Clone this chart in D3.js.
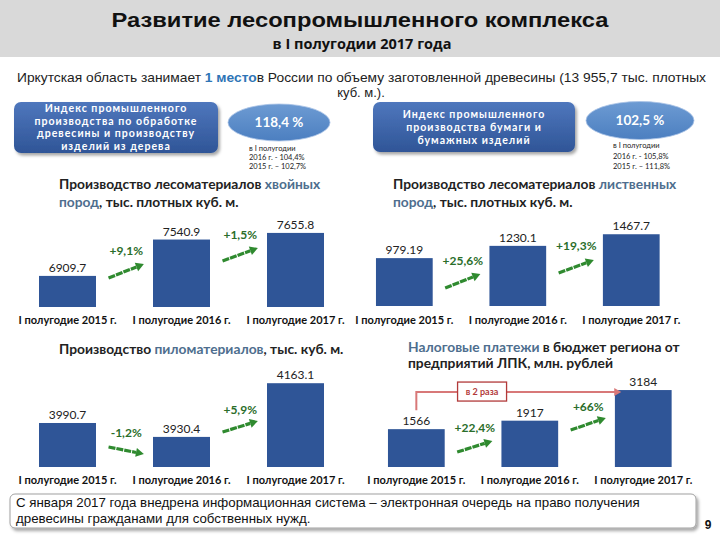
<!DOCTYPE html>
<html><head><meta charset="utf-8">
<script src="https://cdn.jsdelivr.net/npm/d3@7/dist/d3.min.js"></script>
<style>
html,body{margin:0;padding:0;background:#fff;}
svg{display:block;}
</style></head>
<body><svg id="c" width="720" height="540"></svg>
<script>
// ---------- DATA ----------
const categories = ["I полугодие 2015 г.", "I полугодие 2016 г.", "I полугодие 2017 г."];
const softwoodValues = [6909.7, 7540.9, 7655.8];
const softwoodChanges = ["+9,1%", "+1,5%"];
const hardwoodValues = [979.19, 1230.1, 1467.7];
const hardwoodChanges = ["+25,6%", "+19,3%"];
const lumberValues = [3990.7, 3930.4, 4163.1];
const lumberChanges = ["-1,2%", "+5,9%"];
const taxValues = [1566, 1917, 3184];
const taxChanges = ["+22,4%", "+66%"];
const taxRatioLabel = "в 2 раза";
const woodIndexValue = "118,4 %";
const woodIndexHistory = ["в I полугодии", "2016 г. - 104,4%", "2015 г. – 102,7%"];
const paperIndexValue = "102,5 %";
const paperIndexHistory = ["в I полугодии", "2016 г. - 105,8%", "2015 г. – 111,8%"];

// ---------- STYLE ----------
const BAR = "#2f5597";
const HL = "#4e6e8e";
const GREEN = "#2f8a2f";
const GREEN_TXT = "#2a6e2a";
const SANS = "Lato, 'Open Sans', sans-serif";
const ARIAL = "'Liberation Sans', Arial, sans-serif";

const svg = d3.select("#c");
const defs = svg.append("defs");
const sh = defs.append("filter").attr("id","shadow").attr("x","-10%").attr("y","-20%").attr("width","130%").attr("height","160%");
sh.append("feDropShadow").attr("dx",2).attr("dy",2.5).attr("stdDeviation",1.5).attr("flood-color","#000").attr("flood-opacity",0.35);
const g1 = defs.append("linearGradient").attr("id","badge").attr("x1",0).attr("y1",0).attr("x2",0).attr("y2",1);
g1.append("stop").attr("offset","0%").attr("stop-color","#4f77bd");
g1.append("stop").attr("offset","100%").attr("stop-color","#2f5597");
const g2 = defs.append("linearGradient").attr("id","ell").attr("x1",0).attr("y1",0).attr("x2",0).attr("y2",1);
g2.append("stop").attr("offset","0%").attr("stop-color","#6d9bd3");
g2.append("stop").attr("offset","100%").attr("stop-color","#4c7fc0");

svg.append("rect").attr("width",720).attr("height",540).attr("fill","#fff");

// ---------- HEADER ----------
svg.append("rect").attr("x",0).attr("y",0).attr("width",720).attr("height",57).attr("fill","#d9d9d9");
svg.append("text").attr("x",360).attr("y",27).attr("text-anchor","middle")
  .attr("font-family",ARIAL).attr("font-weight","bold").attr("font-size",21).attr("fill","#111")
  .attr("textLength",497).attr("lengthAdjust","spacingAndGlyphs")
  .text("Развитие лесопромышленного комплекса");
svg.append("text").attr("x",362).attr("y",49).attr("text-anchor","middle")
  .attr("font-family","'Open Sans', sans-serif").attr("font-weight","bold").attr("font-size",14.5).attr("fill","#111")
  .text("в I полугодии 2017 года");

const intro = svg.append("text").attr("x",17).attr("y",82)
  .attr("font-family",ARIAL).attr("font-size",13).attr("fill","#222")
  .attr("textLength",689).attr("lengthAdjust","spacingAndGlyphs");
intro.append("tspan").text("Иркутская область занимает ");
intro.append("tspan").attr("fill","#2e75b6").attr("font-weight","bold").text("1 место");
intro.append("tspan").text("в России по объему заготовленной древесины (13 955,7 тыс. плотных");
svg.append("text").attr("x",361).attr("y",97).attr("text-anchor","middle")
  .attr("font-family",ARIAL).attr("font-size",13).attr("fill","#222").text("куб. м.).");

// ---------- BADGES ----------
function badge(x, y, w, h, lines, baselines, ex, ey, erx, ery, val, hist, hx, hys){
  svg.append("rect").attr("x",x).attr("y",y).attr("width",w).attr("height",h).attr("rx",7)
    .attr("fill","url(#badge)").attr("filter","url(#shadow)");
  lines.forEach((t,i)=>svg.append("text").attr("x",x+w/2).attr("y",baselines[i]).attr("text-anchor","middle")
    .attr("font-family",SANS).attr("font-weight","bold").attr("font-size",10.6).attr("letter-spacing",1.0)
    .attr("fill","#fff").text(t));
  svg.append("ellipse").attr("cx",ex).attr("cy",ey).attr("rx",erx).attr("ry",ery)
    .attr("fill","url(#ell)").attr("stroke","#a9c3e6").attr("stroke-width",0.8);
  svg.append("text").attr("x",ex).attr("y",ey+4.5).attr("text-anchor","middle")
    .attr("font-family",SANS).attr("font-weight","bold").attr("font-size",13.5).attr("fill","#fff").text(val);
  hist.forEach((t,i)=>svg.append("text").attr("x",hx).attr("y",hys[i])
    .attr("font-family",SANS).attr("font-size",7.5).attr("fill","#222").text(t));
}
badge(14,102,204,51,["Индекс промышленного","производства по обработке","древесины и производству","изделий из дерева"],
  [112,124.6,137.2,149.8], 279,122.5,51,18.5, woodIndexValue, woodIndexHistory, 249,[151,160,169]);
badge(373,102,202,50,["Индекс промышленного","производства бумаги и","бумажных изделий"],
  [118,131,144], 640,120.5,54,19, paperIndexValue, paperIndexHistory, 613,[148,159,169]);

// ---------- CHARTS ----------
const charts = [
  {values: softwoodValues, changes: softwoodChanges, xRange:[10.5,352.5], yDomain:[6370,7880], yRange:[307,220],
   title:[[["Производство лесоматериалов ",0],["хвойных",1]],[["пород",1],[", тыс. плотных куб. м.",0]]],
   tx:59, ty:[189,207], catY:325,
   arrows:[{y0:-29,y1:-43,ty:-52},{y0:-46,y1:-59,ty:-68}]},
  {values: hardwoodValues, changes: hardwoodChanges, xRange:[347.6,688], yDomain:[0,1800], yRange:[306,218],
   title:[[["Производство лесоматериалов ",0],["лиственных",1]],[["пород",1],[", тыс. плотных куб. м.",0]]],
   tx:393, ty:[189,207], catY:325,
   arrows:[{y0:-18,y1:-32,ty:-41},{y0:-33,y1:-46,ty:-56}]},
  {values: lumberValues, changes: lumberChanges, xRange:[10.5,352.5], yDomain:[3800,4190], yRange:[467,377],
   title:[[["Производство ",0],["пиломатериалов",1],[", тыс. куб. м.",0]]],
   tx:59, ty:[354], catY:485,
   arrows:[{y0:-20,y1:-13,ty:-30},{y0:-35,y1:-46,ty:-53}]},
  {values: taxValues, changes: taxChanges, xRange:[359.6,700], yDomain:[0,3600], yRange:[467,380],
   title:[[["Налоговые платежи",1],[" в бюджет региона от",0]],[["предприятий ЛПК, млн. рублей",0]]],
   tx:408, ty:[352,368], catY:485,
   arrows:[{y0:-15,y1:-26,ty:-35},{y0:-37,y1:-49,ty:-56}], ratio:true}
];

function arrow(g, x0, y0, x1, y1){
  const ang = Math.atan2(y1-y0, x1-x0);
  const L = 8, W = 4.5;
  const bx = x1 - L*Math.cos(ang), by = y1 - L*Math.sin(ang);
  g.append("line").attr("x1",x0).attr("y1",y0).attr("x2",bx).attr("y2",by)
    .attr("stroke",GREEN).attr("stroke-width",3.2).attr("stroke-dasharray","7,1");
  const px = -Math.sin(ang)*W, py = Math.cos(ang)*W;
  g.append("polygon").attr("points",[[x1,y1],[bx+px,by+py],[bx-px,by-py]].map(p=>p.join(",")).join(" "))
    .attr("fill",GREEN);
}

charts.forEach(c=>{
  const g = svg.append("g");
  const x = d3.scaleBand().domain(categories).range(c.xRange).paddingInner(0.5).paddingOuter(0.25);
  const y = d3.scaleLinear().domain(c.yDomain).range(c.yRange);
  const base = c.yRange[0];
  // title
  c.title.forEach((line,i)=>{
    const t = g.append("text").attr("x",c.tx).attr("y",c.ty[i])
      .attr("font-family",SANS).attr("font-weight","bold").attr("font-size",13.8).attr("fill","#222");
    line.forEach(([s,h])=>t.append("tspan").attr("fill",h?HL:"#222").text(s));
  });
  // bars
  g.selectAll("rect.bar").data(c.values).join("rect").attr("class","bar")
    .attr("x",(d,i)=>x(categories[i])).attr("width",x.bandwidth())
    .attr("y",d=>y(d)).attr("height",d=>base-y(d)).attr("fill",BAR);
  g.selectAll("text.val").data(c.values).join("text").attr("class","val")
    .attr("x",(d,i)=>x(categories[i])+x.bandwidth()/2).attr("y",d=>y(d)-4)
    .attr("text-anchor","middle").attr("font-family",SANS).attr("font-size",12).attr("fill","#222")
    .text(d=>String(d));
  // category axis labels
  const ax = d3.axisBottom(x).tickSize(0).tickPadding(0);
  const axg = g.append("g").attr("transform",`translate(0,${c.catY-9})`).call(ax);
  axg.select(".domain").remove();
  axg.selectAll("text").attr("font-family",SANS).attr("font-weight","bold").attr("font-size",11)
    .attr("fill","#111").attr("dy","0.71em");
  // change arrows
  c.changes.forEach((lab,i)=>{
    const gl = x(categories[i]) + x.bandwidth();
    const gr = x(categories[i+1]);
    const gw = gr - gl;
    const x0 = gl + gw*0.22, x1 = gr - gw*0.16;
    const a = c.arrows[i];
    arrow(g, x0, base + a.y0, x1, base + a.y1);
    g.append("text").attr("x",(x0+x1)/2).attr("y",base + a.ty).attr("text-anchor","middle")
      .attr("font-family",SANS).attr("font-weight","bold").attr("font-size",12).attr("fill",GREEN_TXT).text(lab);
  });
  if (c.ratio){
    const cx0 = x(categories[0]) + x.bandwidth()/2;
    const cx2 = x(categories[2]) + x.bandwidth()/2 - 22;
    const ly = y(c.values[2]) + 2;
    const red = "#d87878";
    g.append("path").attr("d",`M${cx0},${y(c.values[0])-19} V${ly} H${cx2-6}`)
      .attr("fill","none").attr("stroke",red).attr("stroke-width",2);
    g.append("polygon").attr("points",`${cx2},${ly} ${cx2-7},${ly-4} ${cx2-7},${ly+4}`).attr("fill",red);
    const bx = (cx0 + x(categories[1]) + x.bandwidth()/2)/2 + 9;
    g.append("rect").attr("x",bx-24.5).attr("y",ly-10).attr("width",49).attr("height",19)
      .attr("fill","#fff").attr("stroke","#b23a3a").attr("stroke-width",1.3);
    g.append("text").attr("x",bx).attr("y",ly+3).attr("text-anchor","middle")
      .attr("font-family",SANS).attr("font-weight","bold").attr("font-size",9).attr("fill","#b23a3a").text(taxRatioLabel);
  }
});

// ---------- FOOTER ----------
svg.append("rect").attr("x",10).attr("y",494).attr("width",686).attr("height",34).attr("rx",5)
  .attr("fill","#fff").attr("stroke","#a0a0a0").attr("stroke-width",1).attr("filter","url(#shadow)");
svg.append("text").attr("x",16).attr("y",507).attr("font-family",ARIAL).attr("font-size",13.3).attr("fill","#111")
  .text("С января 2017 года внедрена информационная система – электронная очередь на право получения");
svg.append("text").attr("x",16).attr("y",523).attr("font-family",ARIAL).attr("font-size",13.3).attr("fill","#111")
  .text("древесины гражданами для собственных нужд.");
svg.append("text").attr("x",708).attr("y",529).attr("text-anchor","middle").attr("font-family",ARIAL)
  .attr("font-weight","bold").attr("font-size",12).attr("fill","#111").text("9");
</script></body></html>
